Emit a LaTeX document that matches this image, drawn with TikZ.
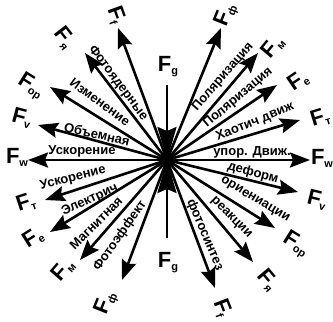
\documentclass[tikz,border=0pt]{standalone}
\usepackage{fontspec}
\setmainfont{Liberation Sans}
\usetikzlibrary{arrows.meta}
\newcommand{\Fsub}[1]{F\raisebox{-3pt}{\fontsize{11}{11}\selectfont #1}}
\begin{document}
\begin{tikzpicture}[x=1pt,y=-1pt,
  vec/.style={line width=2.6pt, -{Stealth[length=20pt,width=15pt,inset=3pt]}},
  gvec/.style={line width=2.6pt, -{Stealth[length=33pt,width=19pt,inset=4pt]}},
  lbl/.style={font=\bfseries\fontsize{13}{13}\selectfont, inner sep=0pt},
  flbl/.style={font=\bfseries\fontsize{22}{22}\selectfont, inner sep=0pt},
]
\useasboundingbox (0,0) rectangle (333,322);
\coordinate (O) at (167,160);
% tips
\coordinate (ulf) at (118,28);
\coordinate (ulya) at (85,53);
\coordinate (ulop) at (50,87);
\coordinate (ulv) at (38,125);
\coordinate (lw) at (28,160);
\coordinate (urf) at (221,28);
\coordinate (urm) at (258,53);
\coordinate (ure) at (277,85);
\coordinate (urt) at (300,120);
\coordinate (rw) at (310,160);
\coordinate (llt) at (45,200);
\coordinate (lle) at (50,232);
\coordinate (llm) at (80,260);
\coordinate (llf) at (122,280);
\coordinate (lrv) at (298,192);
\coordinate (lrop) at (275,228);
\coordinate (lrya) at (253,262);
\coordinate (lrf) at (215,288);
\coordinate (gt) at (167,85);
\coordinate (gb) at (167,238);

\foreach \t in {ulf,ulya,ulop,ulv,lw,urf,urm,ure,urt,rw,llt,lle,llm,llf,lrv,lrop,lrya,lrf}
  \draw[vec] (O) -- (\t);
\draw[gvec] (gt) -- (O);
\draw[gvec] (gb) -- (O);

% F labels
\node[flbl] (Fgt) at (168,67) {\Fsub{g}};
\node[flbl] (Fgb) at (168,263) {\Fsub{g}};
\node[flbl,rotate=-70] (Lulf) at (116,15) {\Fsub{f}};
\node[flbl,rotate=-52] (Lulya) at (64,38) {\Fsub{я}};
\node[flbl,rotate=-32] (Lulop) at (31,86) {\Fsub{ор}};
\node[flbl,rotate=-15] (Lulv) at (22,118) {\Fsub{v}};
\node[flbl] (Llw) at (17,157) {\Fsub{w}};
\node[flbl,rotate=68] (Lurf) at (226,15) {\Fsub{ф}};
\node[flbl,rotate=50] (Lurm) at (273,47) {\Fsub{м}};
\node[flbl,rotate=34] (Lure) at (298,81) {\Fsub{е}};
\node[flbl,rotate=17] (Lurt) at (320,118) {\Fsub{т}};
\node[flbl] (Lrw) at (322,158) {\Fsub{w}};
\node[flbl,rotate=18] (Lllt) at (26,203) {\Fsub{т}};
\node[flbl,rotate=32] (Llle) at (33,238) {\Fsub{е}};
\node[flbl,rotate=49] (Lllm) at (63,270) {\Fsub{м}};
\node[flbl,rotate=68] (Lllf) at (106,303) {\Fsub{ф}};
\node[flbl,rotate=-14] (Llrv) at (317,200) {\Fsub{v}};
\node[flbl,rotate=-32] (Llrop) at (296,244) {\Fsub{ор}};
\node[flbl,rotate=-50] (Llrya) at (268,280) {\Fsub{я}};
\node[flbl,rotate=-69] (Llrf) at (222,308) {\Fsub{f}};

% texts
\node[lbl,rotate=-53] (t1) at (118,83) {Фотоядерные};
\node[lbl,rotate=-36] (t2) at (100,102) {Изменение};
\node[lbl,rotate=-13] (t3) at (97,134) {Объемная};
\node[lbl] (t4) at (82,151) {Ускорение};
\node[lbl,rotate=49] (t5) at (223,77) {Поляризация};
\node[lbl,rotate=40] (t6) at (238,98) {Поляризация};
\node[lbl,rotate=22] (t7) at (255,122) {Хаотич движ};
\node[lbl] (t8) at (252,152) {упор. Движ.};
\node[lbl,rotate=14] (t9) at (73,178) {Ускорение};
\node[lbl,rotate=25] (t10) at (90,200) {Электрич};
\node[lbl,rotate=45] (t11) at (96,223) {Магнитная};
\node[lbl,rotate=55] (t12) at (120,236) {Фотоэффект};
\node[lbl,rotate=-15] (t13) at (253,173) {деформ};
\node[lbl,rotate=-31] (t14) at (255,200) {ориениации};
\node[lbl,rotate=-45] (t15) at (231,218) {реакции};
\node[lbl,rotate=-67] (t16) at (205,235) {фотосинтез};
\end{tikzpicture}
\end{document}
